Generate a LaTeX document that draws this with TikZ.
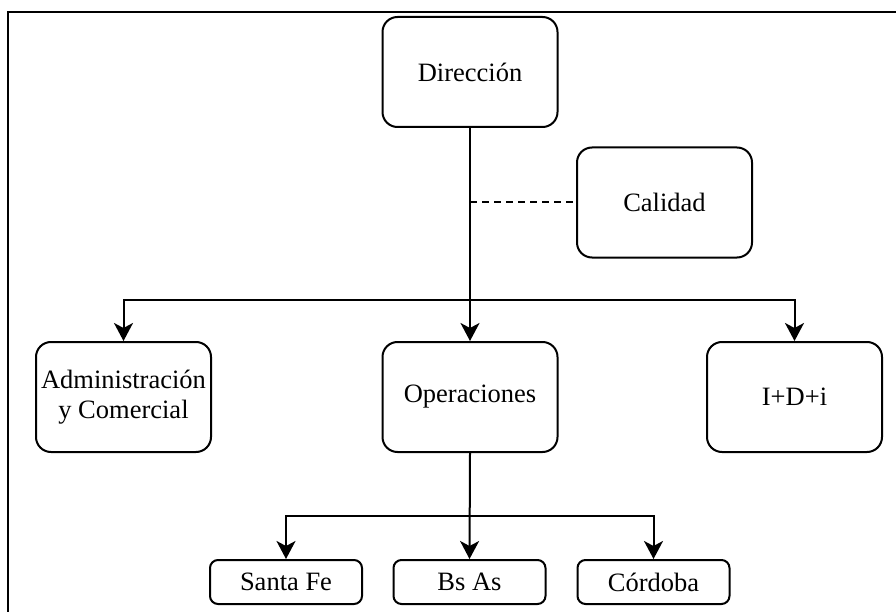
\documentclass[tikz,border=0pt]{standalone}
\usepackage{fontspec}
\setmainfont{Liberation Serif}
\usetikzlibrary{arrows.meta}
\begin{document}
\begin{tikzpicture}[x=1pt,y=-1pt,
  box/.style={draw, line width=2pt, rounded corners=15pt, inner sep=0pt,
    minimum width=175pt, minimum height=110pt, align=center,
    font=\fontsize{26.5}{30}\selectfont},
  smallbox/.style={box, rounded corners=8pt, minimum width=152pt, minimum height=44pt},
  link/.style={line width=2pt},
  arrowlink/.style={link, -{Stealth[length=18pt,width=19pt,inset=5pt]}},
  dashlink/.style={link, dash pattern=on 7pt off 5pt}]
\useasboundingbox (0,0) rectangle (896,612);
% outer frame, its right and bottom sides run off the page
\draw[line width=2.6pt] (8,650) -- (8,12) -- (940,12);

\node[box] (dir) at (470,72) {Dirección};
\node[box] (cal) at (664.5,202.5) {Calidad};
\node[box] (adm) at (123.5,397) {Administración\\y Comercial};
\node[box] (ope) at (470,397) {Operaciones};
\node[box] (idi) at (794.5,397) {I+D+i};
\node[smallbox] (sfe) at (286,582) {Santa Fe};
\node[smallbox] (bsa) at (469.5,582) {Bs As};
\node[smallbox] (cor) at (653.5,582) {Córdoba};

\coordinate (qa) at (470,202.5);
\coordinate (j1) at (470,300);
\coordinate (j2) at (470,516);

\draw[arrowlink] (dir.south) -- (ope.north);
\draw[dashlink] (qa) -- (cal.west);
\draw[arrowlink] (j1) -| (adm.north);
\draw[arrowlink] (j1) -| (idi.north);
\draw[arrowlink] (ope.south) -- (bsa.north);
\draw[arrowlink] (j2) -| (sfe.north);
\draw[arrowlink] (j2) -| (cor.north);
\end{tikzpicture}
\end{document}
